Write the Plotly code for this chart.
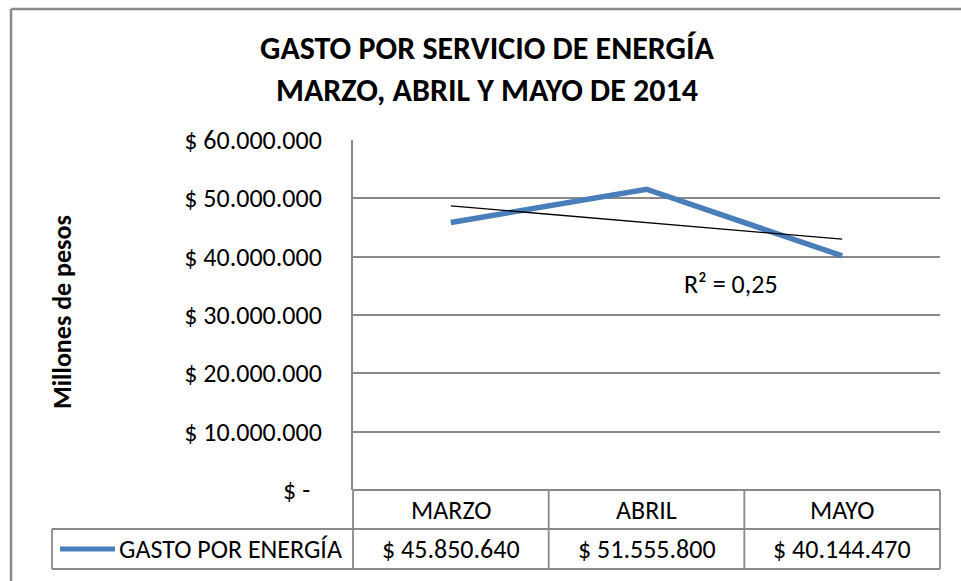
import numpy as np
import plotly.graph_objects as go

W, H = 961, 581

months = ["MARZO", "ABRIL", "MAYO"]
gasto = [45850640, 51555800, 40144470]
series_name = "GASTO POR ENERGÍA"
y_ticks = [0, 10000000, 20000000, 30000000, 40000000, 50000000, 60000000]

FONT = "Carlito, Calibri, Lato, sans-serif"
GRID = "#898989"
BLUE = "#4a7ebb"
FS = 26  # body text size
LW = 1.8  # grid / table line width


def fmt_money(v):
    if v == 0:
        return "$ -\u00a0\u00a0"  # accounting format pads the dash
    return "$ " + f"{v:,.0f}".replace(",", ".")


def px_x(x):
    return x / W


def px_y(y):
    return 1 - y / H


def label(x, y, text, size=FS, **kw):
    d = dict(x=px_x(x), y=px_y(y), xref="paper", yref="paper", text=text,
             showarrow=False, xanchor="center", yanchor="middle",
             font=dict(size=size, color="black"))
    d.update(kw)
    return d


# plot area in pixels
L, R, T, B = 353, 940, 140, 490
row1, row2 = 529, 569
leg_left = 52

# linear trend (Excel style, x = 1..n)
xi = np.arange(1, len(gasto) + 1)
slope, intercept = np.polyfit(xi, gasto, 1)
trend = slope * xi + intercept
ss_res = np.sum((np.array(gasto) - trend) ** 2)
ss_tot = np.sum((np.array(gasto) - np.mean(gasto)) ** 2)
r2 = 1 - ss_res / ss_tot

fig = go.Figure()
fig.add_trace(
    go.Scatter(
        x=months, y=gasto, mode="lines", line=dict(color=BLUE, width=5.5),
        name=series_name, showlegend=False,
    )
)
fig.add_trace(
    go.Scatter(
        x=months, y=trend, mode="lines", line=dict(color="black", width=1.3),
        showlegend=False,
    )
)

shapes = []


def hline(y, x0, x1, color=GRID, width=LW):
    shapes.append(dict(type="line", xref="paper", yref="paper",
                       x0=px_x(x0), x1=px_x(x1), y0=px_y(y), y1=px_y(y),
                       line=dict(color=color, width=width)))


def vline(x, y0, y1, color=GRID, width=LW):
    shapes.append(dict(type="line", xref="paper", yref="paper",
                       x0=px_x(x), x1=px_x(x), y0=px_y(y0), y1=px_y(y1),
                       line=dict(color=color, width=width)))


# outer chart frame (cropped on right and bottom)
hline(9, 11, W + 5, width=2.5)
vline(11, 9, H + 5, width=2.5)

# data table
col_w = (R - L) / len(months)
hline(B, L, R)
hline(row1, leg_left, R)
hline(row2, leg_left, R)
vline(leg_left, row1, row2)
for i in range(len(months) + 1):
    vline(L + i * col_w, B, row2)

# legend key in table
hline((row1 + row2) / 2, 60, 115, color=BLUE, width=5)

annotations = []
for i, (m, v) in enumerate(zip(months, gasto)):
    cx = L + (i + 0.5) * col_w
    annotations.append(label(cx, (B + row1) / 2, m))
    annotations.append(label(cx, (row1 + row2) / 2, fmt_money(v)))

annotations.append(label(117, (row1 + row2) / 2, series_name, xanchor="left"))

# R² label
annotations.append(label(731, 284, "R² = " + f"{r2:.2f}".replace(".", ",")))

# y axis title
annotations.append(label(62, 312, "<b>Millones de pesos</b>", textangle=-90))

# title
annotations.append(label(488, 70, "<b>GASTO POR SERVICIO DE ENERGÍA<br>MARZO, ABRIL Y MAYO DE 2014</b>",
                         size=32))

fig.update_layout(
    width=W, height=H,
    margin=dict(l=0, r=0, t=0, b=0, autoexpand=False),
    paper_bgcolor="white", plot_bgcolor="white",
    font=dict(family=FONT, color="black"),
    showlegend=False,
    shapes=shapes,
    annotations=annotations,
    xaxis=dict(
        domain=[px_x(L), px_x(R)], type="category", range=[-0.5, len(months) - 0.5],
        showticklabels=False, showgrid=False, zeroline=False, showline=False, ticks="",
        automargin=False,
    ),
    yaxis=dict(
        domain=[px_y(B), px_y(T)], range=[0, 60000000],
        tickvals=y_ticks, ticktext=[fmt_money(v) for v in y_ticks],
        tickfont=dict(size=FS, color="black"),
        showgrid=True, gridcolor=GRID, gridwidth=LW,
        zeroline=False, showline=True, linecolor=GRID, linewidth=LW,
        ticks="", ticklabelstandoff=24,
        automargin=False,
    ),
)

# drop the default page margin so the figure sits at (0, 0)
fig.write_html(
    "out.html",
    config={"displayModeBar": False},
    post_script="document.body.style.margin = '0';",
)
